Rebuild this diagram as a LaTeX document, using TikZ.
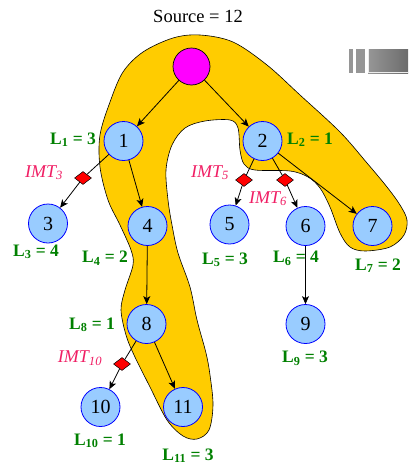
\documentclass[tikz,border=0pt]{standalone}
\usepackage{fontspec}
\setmainfont{Liberation Serif}
\usetikzlibrary{shapes.geometric,arrows.meta}
\definecolor{nodeblue}{RGB}{153,204,255}
\definecolor{nodeedge}{RGB}{0,0,255}
\definecolor{srcmag}{RGB}{255,0,255}
\definecolor{gatered}{RGB}{255,0,0}
\definecolor{blobgold}{RGB}{255,204,0}
\definecolor{lgreen}{RGB}{0,128,0}
\definecolor{imtpink}{RGB}{240,30,100}
\definecolor{bargray}{RGB}{150,150,150}
\definecolor{darkbar}{RGB}{108,108,108}
\begin{document}
\begin{tikzpicture}[x=1pt,y=-1pt,
 vert/.style={circle,draw=nodeedge,fill=nodeblue,line width=0.8pt,minimum size=39pt,inner sep=0pt,font=\fontsize{20}{20}\selectfont},
 src/.style={circle,draw=black,fill=srcmag,line width=0.7pt,minimum size=37pt,inner sep=0pt},
 gate/.style={diamond,draw=black,fill=gatered,line width=0.5pt,minimum width=17pt,minimum height=13pt,inner sep=0pt},
 edge/.style={line width=0.8pt,-{Stealth[length=8pt,width=7pt,inset=2pt]}},
 seg/.style={line width=0.8pt},
 lab/.style={text=lgreen,font=\fontsize{17.5}{18}\selectfont\bfseries,anchor=base,inner sep=0pt},
 imt/.style={text=imtpink,font=\fontsize{18}{18}\selectfont\itshape,anchor=base,inner sep=0pt},
 blob/.style={fill=blobgold,draw=black,line width=0.6pt}]
\useasboundingbox (0,0) rectangle (408,466);

% gold region
\draw[blob] plot[smooth cycle,tension=0.55] coordinates {
 (200,35) (173,38) (143,52) (123,72) (110,102) (100,135) (100,167) (108,200)
 (120,225) (131,250) (133,265) (125,290) (121,310) (126,335) (134,355)
 (150,387) (167,420) (183,436) (197,439) (209,430) (213,405) (210,375)
 (206,353) (197,320) (190,287) (178,253) (172,225) (168,200) (166,170)
 (172,145) (185,128) (205,121) (230,120) (238,128) (240,150) (244,164)
 (255,170) (290,171) (308,177) (320,188) (330,207) (340,233) (350,247)
 (365,251) (390,247) (404,235) (407,220) (400,205) (387,187) (367,163)
 (340,132) (300,95) (267,65) (233,42)};

% decoration top right
\fill[bargray] (349,49) rectangle (353,73);
\fill[bargray] (356,49) rectangle (365,73);
\shade[left color=bargray,right color=darkbar] (368,49) rectangle (408,73);
\draw[white!85!gray,line width=0.6pt] (368.3,49.3) -- (368.3,72.7) -- (408,72.7);

% title
\node[anchor=base,inner sep=0pt,font=\fontsize{18.5}{19}\selectfont] (title) at (198,22.7) {Source = 12};

% nodes
\node[src] (s) at (191.5,66.5) {};
\node[vert] (n1) at (123.5,141) {1};
\node[vert] (n2) at (262.5,141) {2};
\node[vert] (n3) at (48,223.5) {3};
\node[vert] (n4) at (147.5,226) {4};
\node[vert] (n5) at (229.5,224.5) {5};
\node[vert] (n6) at (305.5,226) {6};
\node[vert] (n7) at (372.5,226) {7};
\node[vert] (n8) at (146.5,324) {8};
\node[vert] (n9) at (305.5,324) {9};
\node[vert] (n10) at (100.5,407) {10};
\node[vert] (n11) at (183,407) {11};

% gates
\node[gate] (d3) at (83,178) {};
\node[gate] (d5) at (244,180) {};
\node[gate] (d6) at (285,180) {};
\node[gate] (d10) at (122,364) {};

% edges
\draw[edge] (s) -- (n1);
\draw[edge] (s) -- (n2);
\draw[edge] (n1) -- (n4);
\draw[edge] (n2) -- (n7);
\draw[edge] (n4) -- (n8);
\draw[edge] (n6) -- (n9);
\draw[edge] (n8) -- (n11);
\draw[seg] (n1) -- (d3);
\draw[edge] (d3) -- (n3);
\draw[seg] (n2) -- (d5);
\draw[edge] (d5) -- (n5);
\draw[seg] (n2) -- (d6);
\draw[edge] (d6) -- (n6);
\draw[seg] (n8) -- (d10);
\draw[edge] (d10) -- (n10);

% labels
\node[lab] (l1) at (73,144) {L\textsubscript{1} = 3};
\node[lab] (l2) at (310,144) {L\textsubscript{2} = 1};
\node[lab] (l3) at (36,256) {L\textsubscript{3} = 4};
\node[lab] (l4) at (105,262.7) {L\textsubscript{4} = 2};
\node[lab] (l5) at (225,264.3) {L\textsubscript{5} = 3};
\node[lab] (l6) at (296,262.7) {L\textsubscript{6} = 4};
\node[lab] (l7) at (378,270) {L\textsubscript{7} = 2};
\node[lab] (l8) at (92,329) {L\textsubscript{8} = 1};
\node[lab] (l9) at (305,362.7) {L\textsubscript{9} = 3};
\node[lab] (l10) at (100,445) {L\textsubscript{10} = 1};
\node[lab] (l11) at (188,460) {L\textsubscript{11} = 3};

\node[imt] (i3) at (44,177) {IMT\textsubscript{3}};
\node[imt] (i5) at (210,177) {IMT\textsubscript{5}};
\node[imt] (i6) at (268,203) {IMT\textsubscript{6}};
\node[imt] (i10) at (80,362.7) {IMT\textsubscript{10}};
\end{tikzpicture}
\end{document}
